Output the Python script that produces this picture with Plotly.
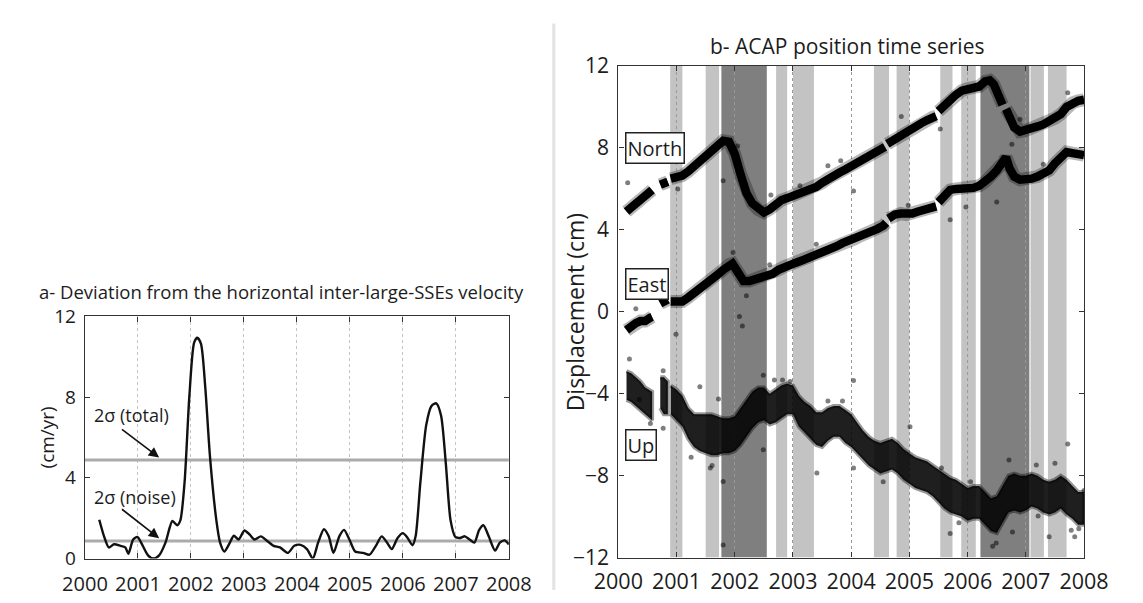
import plotly.graph_objects as go

# ---------------- panel a: deviation from inter-SSE velocity (cm/yr) ----------------
dev_t = [2000.27, 2000.36, 2000.45, 2000.55, 2000.67, 2000.76, 2000.82, 2000.91, 2000.99, 2001.06,
         2001.19, 2001.29, 2001.40, 2001.52, 2001.65, 2001.74, 2001.80, 2001.88, 2001.97, 2002.06,
         2002.12, 2002.19, 2002.27, 2002.36, 2002.48, 2002.55, 2002.63, 2002.72, 2002.81, 2002.90,
         2003.01, 2003.11, 2003.20, 2003.32, 2003.44, 2003.56, 2003.68, 2003.83, 2003.95, 2004.07,
         2004.19, 2004.30, 2004.40, 2004.51, 2004.60, 2004.69, 2004.80, 2004.89, 2004.99, 2005.10,
         2005.25, 2005.37, 2005.49, 2005.60, 2005.70, 2005.79, 2005.90, 2006.00, 2006.09, 2006.18,
         2006.24, 2006.33, 2006.44, 2006.54, 2006.63, 2006.72, 2006.81, 2006.90, 2006.99, 2007.08,
         2007.17, 2007.26, 2007.35, 2007.44, 2007.52, 2007.62, 2007.74, 2007.83, 2007.92, 2008.00]
dev_v = [1.92, 1.10, 0.55, 0.71, 0.63, 0.55, 0.24, 0.94, 1.07, 0.79,
         0.16, 0.00, 0.16, 0.79, 1.86, 1.65, 1.89, 3.78, 8.03, 10.70,
         10.94, 10.63, 8.50, 5.04, 1.89, 0.79, 0.35, 0.71, 1.13, 0.94,
         1.39, 1.18, 0.94, 1.10, 0.87, 0.63, 0.55, 0.28, 0.63, 0.68,
         0.47, 0.00, 0.79, 1.45, 1.10, 0.28, 1.10, 1.42, 0.94, 0.35,
         0.28, 0.19, 0.63, 1.10, 0.79, 0.47, 1.02, 1.26, 1.02, 0.66,
         1.10, 3.78, 6.61, 7.56, 7.69, 7.09, 4.72, 1.89, 1.07, 1.02,
         1.10, 0.94, 0.79, 1.42, 1.65, 1.10, 0.39, 0.79, 0.90, 0.70]
sigma_total = 4.88
sigma_noise = 0.87
years = [2000, 2001, 2002, 2003, 2004, 2005, 2006, 2007, 2008]

# ---------------- panel b: ACAP position time series (cm) ----------------
north_t = [2000.14, 2000.22, 2000.30, 2000.38, 2000.46, 2000.54, 2000.58, None,
           2000.72, 2000.78, 2000.85, None,
           2000.90, 2001.00, 2001.10, 2001.20, 2001.30, 2001.40, 2001.50, 2001.60, 2001.70, 2001.80,
           2001.90, 2002.00, 2002.10, 2002.20, 2002.30, 2002.40, 2002.50, 2002.60, 2002.70, 2002.80,
           2002.90, 2003.00, 2003.10, 2003.20, 2003.30, 2003.40, 2003.50, 2003.60, 2003.70, 2003.80,
           2003.90, 2004.00, 2004.10, 2004.20, 2004.30, 2004.40, 2004.50, 2004.58, None,
           2004.62, 2004.70, 2004.80, 2004.90, 2005.00, 2005.10, 2005.20, 2005.30, 2005.40, 2005.46, None,
           2005.50, 2005.60, 2005.70, 2005.80, 2005.90, 2006.00, 2006.10, 2006.20, 2006.30, 2006.38,
           2006.45, 2006.52, 2006.60, None,
           2006.66, 2006.72, 2006.80, 2006.90, 2007.00, 2007.10, 2007.20, 2007.30, 2007.40, 2007.50,
           2007.60, 2007.70, 2007.80, 2007.90, 2008.00]
north_v = [4.90, 5.10, 5.25, 5.45, 5.65, 5.85, 5.95, None,
           6.20, 6.30, 6.35, None,
           6.50, 6.55, 6.65, 6.85, 7.10, 7.30, 7.50, 7.75, 8.10, 8.35,
           8.30, 7.70, 6.70, 5.80, 5.30, 5.00, 4.85, 5.00, 5.30, 5.45,
           5.55, 5.65, 5.75, 5.85, 5.95, 6.10, 6.30, 6.50, 6.65, 6.80,
           6.95, 7.10, 7.25, 7.40, 7.60, 7.75, 7.90, 8.05, None,
           8.20, 8.35, 8.55, 8.75, 8.90, 9.05, 9.20, 9.35, 9.50, 9.55, None,
           9.80, 10.10, 10.40, 10.60, 10.80, 10.90, 10.95, 11.00, 11.25, 11.30,
           11.10, 10.60, 10.10, None,
           9.90, 9.60, 9.00, 8.80, 8.85, 8.95, 9.05, 9.15, 9.30, 9.45,
           9.65, 10.00, 10.20, 10.30, 10.35]

east_t = [2000.14, 2000.22, 2000.30, 2000.38, 2000.46, 2000.54, 2000.58, None,
          2000.72, 2000.78, 2000.85, None,
          2000.90, 2001.00, 2001.10, 2001.20, 2001.30, 2001.40, 2001.50, 2001.60, 2001.70, 2001.80,
          2001.90, 2001.96, 2002.05, 2002.15, 2002.25, 2002.35, 2002.45, 2002.55, 2002.65, 2002.75,
          2002.85, 2002.95, 2003.05, 2003.15, 2003.25, 2003.35, 2003.45, 2003.55, 2003.65, 2003.75,
          2003.85, 2003.95, 2004.05, 2004.15, 2004.25, 2004.35, 2004.45, 2004.55, 2004.60, None,
          2004.64, 2004.75, 2004.85, 2004.95, 2005.05, 2005.15, 2005.25, 2005.35, 2005.46, None,
          2005.50, 2005.60, 2005.70, 2005.80, 2005.90, 2006.00, 2006.10, 2006.20, 2006.30, 2006.40,
          2006.50, 2006.58, 2006.62, 2006.66, 2006.72, 2006.80, 2006.90, 2007.00, 2007.10, 2007.20,
          2007.30, 2007.40, 2007.50, 2007.60, 2007.70, 2007.80, 2007.90, 2008.00]
east_v = [-0.90, -0.70, -0.55, -0.45, -0.45, -0.30, -0.25, None,
          0.40, 0.55, 0.60, None,
          0.50, 0.45, 0.50, 0.70, 0.90, 1.10, 1.35, 1.60, 1.80, 2.05,
          2.30, 2.35, 1.95, 1.50, 1.50, 1.60, 1.65, 1.70, 1.85, 2.05,
          2.20, 2.30, 2.40, 2.50, 2.60, 2.75, 2.85, 2.95, 3.05, 3.20,
          3.35, 3.45, 3.55, 3.70, 3.80, 3.90, 4.05, 4.20, 4.35, None,
          4.55, 4.75, 4.80, 4.75, 4.80, 4.90, 5.00, 5.05, 5.15, None,
          5.35, 5.70, 5.95, 6.00, 6.00, 6.00, 6.05, 6.15, 6.35, 6.60,
          6.90, 7.20, 7.30, 7.55, 7.00, 6.60, 6.45, 6.45, 6.50, 6.60,
          6.75, 6.90, 7.25, 7.55, 7.80, 7.75, 7.70, 7.65]

up_t = [2000.14, 2000.22, 2000.30, 2000.38, 2000.46, 2000.54, 2000.58, None,
        2000.72, 2000.78, 2000.85, None,
        2000.90, 2001.00, 2001.10, 2001.20, 2001.30, 2001.40, 2001.50, 2001.60, 2001.70, 2001.80,
        2001.90, 2002.00, 2002.10, 2002.20, 2002.30, 2002.40, 2002.50, 2002.60, 2002.70, 2002.80,
        2002.90, 2003.00, 2003.10, 2003.20, 2003.30, 2003.40, 2003.50, 2003.60, 2003.70, 2003.80,
        2003.90, 2004.00, 2004.10, 2004.20, 2004.30, 2004.40, 2004.50, 2004.60, 2004.70, 2004.80,
        2004.90, 2005.00, 2005.10, 2005.20, 2005.30, 2005.40, 2005.50, 2005.60, 2005.70, 2005.80,
        2005.90, 2006.00, 2006.10, 2006.20, 2006.30, 2006.40, 2006.50, 2006.60, 2006.70, 2006.80,
        2006.90, 2007.00, 2007.10, 2007.20, 2007.30, 2007.40, 2007.50, 2007.60, 2007.70, 2007.80,
        2007.90, 2008.00]
up_hi = [-2.9, -3.0, -3.2, -3.4, -3.7, -3.8, -3.9, None,
         -3.2, -3.2, -3.4, None,
         -3.6, -3.8, -4.1, -4.7, -5.0, -5.0, -5.0, -5.0, -5.1, -5.2,
         -5.2, -5.1, -4.7, -4.3, -3.9, -3.7, -3.7, -4.0, -3.8, -3.6,
         -3.5, -3.6, -4.1, -4.4, -4.6, -4.9, -4.9, -4.7, -4.6, -4.6,
         -4.8, -5.0, -5.4, -5.8, -6.1, -6.3, -6.4, -6.3, -6.2, -6.4,
         -6.7, -6.9, -7.1, -7.2, -7.3, -7.5, -7.7, -7.9, -8.1, -8.2,
         -8.4, -8.6, -8.5, -8.5, -8.8, -9.1, -9.0, -8.5, -8.0, -7.9,
         -8.0, -8.0, -7.9, -8.0, -8.2, -8.3, -8.2, -8.0, -8.2, -8.5,
         -8.8, -8.8]
up_lo = [-4.3, -4.4, -4.6, -4.8, -5.0, -5.2, -5.3, None,
         -4.7, -5.0, -5.0, None,
         -5.0, -5.3, -5.6, -6.2, -6.6, -6.8, -6.9, -7.0, -7.0, -6.9,
         -6.9, -6.8, -6.5, -6.1, -5.7, -5.4, -5.3, -5.5, -5.4, -5.2,
         -5.0, -5.0, -5.6, -5.9, -6.2, -6.5, -6.6, -6.3, -6.1, -6.1,
         -6.4, -6.6, -6.9, -7.2, -7.5, -7.7, -7.9, -7.8, -7.7, -7.9,
         -8.2, -8.4, -8.6, -8.7, -8.8, -9.0, -9.3, -9.6, -9.8, -9.9,
         -10.0, -10.2, -10.1, -10.1, -10.4, -10.7, -10.8, -10.3, -9.8, -9.7,
         -9.8, -9.7, -9.5, -9.6, -9.8, -9.9, -9.8, -9.6, -9.9, -10.1,
         -10.4, -10.4]

north_out_t = [2000.16, 2001.80, 2003.60, 2003.82, 2004.04, 2004.86, 2005.53, 2006.76, 2001.02,
               2002.05, 2002.62, 2003.12, 2006.90, 2007.72]
north_out_v = [6.30, 6.40, 7.13, 7.37, 5.90, 9.54, 8.92, 8.18, 6.00,
               8.10, 5.70, 6.15, 9.40, 10.70]
east_out_t = [2001.97, 2002.08, 2002.13, 2002.20, 2000.99, 2005.70, 2005.97, 2006.50, 2000.19, 2000.30,
              2002.60, 2003.40, 2004.98, 2007.30]
east_out_v = [2.90, -0.23, -0.69, 0.78, -1.09, 4.50, 5.12, 5.36, -2.30, 0.15,
              2.30, 3.30, 5.20, 7.20]
up_out_t = [2002.49, 2002.68, 2002.82, 2001.80, 2001.80, 2001.61, 2002.49, 2001.72, 2004.04, 2004.04,
            2005.01, 2005.55, 2005.70, 2006.43, 2006.49, 2006.77, 2006.71, 2007.18, 2007.21, 2007.40,
            2007.50, 2007.72, 2007.78, 2007.84, 2007.91, 2008.00, 2000.77, 2000.55, 2000.77, 2001.40,
            2003.60, 2003.85, 2003.41, 2001.58, 2000.36, 2001.25, 2002.95, 2004.55, 2005.85, 2006.05]
up_out_v = [-3.10, -3.33, -3.33, -8.29, -11.39, -7.51, -6.74, -4.26, -3.35, -7.63,
            -5.61, -7.63, -10.83, -11.45, -11.29, -10.75, -7.24, -7.48, -9.97, -10.98,
            -7.40, -6.46, -10.67, -10.98, -10.59, -8.72, -2.88, -5.45, -5.69, -3.66,
            -4.36, -4.36, -7.87, -7.63, -4.28, -7.10, -3.40, -8.30, -10.30, -8.30]

# slow-slip intervals shaded behind the positions
light_start = [2000.89, 2001.50, 2002.71, 2003.00, 2004.39, 2004.78, 2005.53, 2005.89, 2007.08, 2007.38]
light_end = [2001.10, 2001.73, 2002.90, 2003.36, 2004.65, 2005.00, 2005.74, 2006.14, 2007.31, 2007.70]
dark_start = [2001.77, 2006.22]
dark_end = [2002.55, 2007.06]

W, H = 1143, 603
FONT = "Open Sans"
TXT = "#1c1c1c"


def px_x(p):
    return p / W


def px_y(p):
    return 1 - p / H


def split_segments(t, *cols):
    segs, cur = [], [[] for _ in range(len(cols) + 1)]
    for i, ti in enumerate(t):
        if ti is None:
            if cur[0]:
                segs.append(cur)
            cur = [[] for _ in range(len(cols) + 1)]
            continue
        cur[0].append(ti)
        for k, c in enumerate(cols):
            cur[k + 1].append(c[i])
    if cur[0]:
        segs.append(cur)
    return segs


fig = go.Figure()

# ---- panel a traces ----
for lvl in (sigma_total, sigma_noise):
    fig.add_trace(go.Scatter(x=[years[0], years[-1]], y=[lvl, lvl], mode="lines",
                             line=dict(color="#ababab", width=3), xaxis="x", yaxis="y",
                             hoverinfo="skip"))
fig.add_trace(go.Scatter(x=dev_t, y=dev_v, mode="lines",
                         line=dict(color="#111111", width=2.4, shape="spline", smoothing=0.7),
                         xaxis="x", yaxis="y"))

# ---- panel b traces ----
for seg_t, seg_hi, seg_lo in split_segments(up_t, up_hi, up_lo):
    fig.add_trace(go.Scatter(x=seg_t + seg_t[::-1], y=seg_hi + seg_lo[::-1], mode="lines",
                             fill="toself", fillcolor="rgba(0,0,0,0.88)",
                             line=dict(color="rgba(0,0,0,0.4)", width=4),
                             xaxis="x2", yaxis="y2", hoverinfo="skip"))

for tt, vv in ((north_t, north_v), (east_t, east_v)):
    fig.add_trace(go.Scatter(x=tt, y=vv, mode="lines", line=dict(color="rgba(0,0,0,0.28)", width=13),
                             xaxis="x2", yaxis="y2", hoverinfo="skip"))
    fig.add_trace(go.Scatter(x=tt, y=vv, mode="lines", line=dict(color="#000000", width=8.5),
                             xaxis="x2", yaxis="y2"))

for tt, vv in ((north_out_t, north_out_v), (east_out_t, east_out_v), (up_out_t, up_out_v)):
    fig.add_trace(go.Scatter(x=tt, y=vv, mode="markers",
                             marker=dict(color="rgba(0,0,0,0.5)", size=5),
                             xaxis="x2", yaxis="y2"))

shapes = []
for s, e in zip(light_start, light_end):
    shapes.append(dict(type="rect", xref="x2", yref="y2", x0=s, x1=e, y0=-12, y1=12,
                       fillcolor="#c3c3c3", line=dict(width=0), layer="below"))
for s, e in zip(dark_start, dark_end):
    shapes.append(dict(type="rect", xref="x2", yref="y2", x0=s, x1=e, y0=-12, y1=12,
                       fillcolor="#7f7f7f", line=dict(width=0), layer="below"))
# divider between the two panels
shapes.append(dict(type="line", xref="paper", yref="paper", x0=px_x(553), x1=px_x(553),
                   y0=0, y1=px_y(9), line=dict(color="#e2e2e2", width=3)))

axis_common = dict(showline=True, linecolor="#333333", linewidth=1.4, mirror="ticks",
                   ticks="inside", ticklen=5, tickcolor="#333333", zeroline=False)

annotations = [
    dict(text="a- Deviation from the horizontal inter-large-SSEs velocity", xref="paper", yref="paper",
         x=px_x(268), y=px_y(290), showarrow=False, font=dict(size=18.5, color=TXT),
         xanchor="center", yanchor="middle"),
    dict(text="(cm/yr)", xref="paper", yref="paper", x=px_x(23), y=px_y(443), textangle=-90,
         showarrow=False, font=dict(size=19, color=TXT), xanchor="center", yanchor="middle"),
    dict(text="2σ (total)", xref="x", yref="y", x=2000.13, y=7.1, showarrow=False,
         font=dict(size=18, color=TXT), xanchor="left", yanchor="middle"),
    dict(text="2σ (noise)", xref="x", yref="y", x=2000.13, y=3.07, showarrow=False,
         font=dict(size=18, color=TXT), xanchor="left", yanchor="middle"),
    dict(text="", xref="x", yref="y", x=2001.40, y=5.0, axref="x", ayref="y", ax=2000.67, ay=6.45,
         showarrow=True, arrowhead=2, arrowsize=1.3, arrowwidth=1.6, arrowcolor="#111111"),
    dict(text="", xref="x", yref="y", x=2001.40, y=1.0, axref="x", ayref="y", ax=2000.67, ay=2.5,
         showarrow=True, arrowhead=2, arrowsize=1.3, arrowwidth=1.6, arrowcolor="#111111"),
    dict(text="b- ACAP position time series", xref="paper", yref="paper", x=px_x(860), y=px_y(33),
         showarrow=False, font=dict(size=21, color=TXT), xanchor="center", yanchor="middle"),
    dict(text="Displacement (cm)", xref="paper", yref="paper", x=px_x(575), y=px_y(312),
         textangle=-90, showarrow=False, font=dict(size=23, color=TXT),
         xanchor="center", yanchor="middle"),
]
for name, yv in (("North", 8.0), ("East", 1.34), ("Up", -6.5)):
    annotations.append(dict(text=name, xref="x2", yref="y2", x=2000.11, y=yv, showarrow=False,
                            xanchor="left", yanchor="middle", font=dict(size=20, color=TXT),
                            bgcolor="white", bordercolor="#222222", borderwidth=1.5, borderpad=1))

fig.update_layout(
    width=W, height=H, autosize=False,
    margin=dict(l=0, r=0, t=0, b=0),
    paper_bgcolor="white", plot_bgcolor="white",
    showlegend=False,
    font=dict(family=FONT, color=TXT),
    shapes=shapes,
    annotations=annotations,
    xaxis=dict(domain=[px_x(62.7), px_x(506)], range=[2000, 2008], tickvals=years,
               showgrid=True, gridcolor="#c4c4c4", griddash="dot", gridwidth=1,
               tickfont=dict(size=20), ticklabelstandoff=7, anchor="y", **axis_common),
    yaxis=dict(domain=[px_y(570), px_y(316)], range=[0, 12], tickvals=[0, 4, 8, 12],
               showgrid=False, tickfont=dict(size=19), ticklabelstandoff=4, anchor="x",
               **axis_common),
    xaxis2=dict(domain=[px_x(620.5), px_x(1107.5)], range=[2000, 2008], tickvals=years,
                showgrid=True, gridcolor="#999999", griddash="dot", gridwidth=1,
                tickfont=dict(size=21.5), ticklabelstandoff=4, anchor="y2", **axis_common),
    yaxis2=dict(domain=[px_y(569), px_y(53.5)], range=[-12, 12], tickvals=[-12, -8, -4, 0, 4, 8, 12],
                showgrid=False, tickfont=dict(size=21), ticklabelstandoff=4, anchor="x2",
                **axis_common),
)

fig.write_html("out.html")
